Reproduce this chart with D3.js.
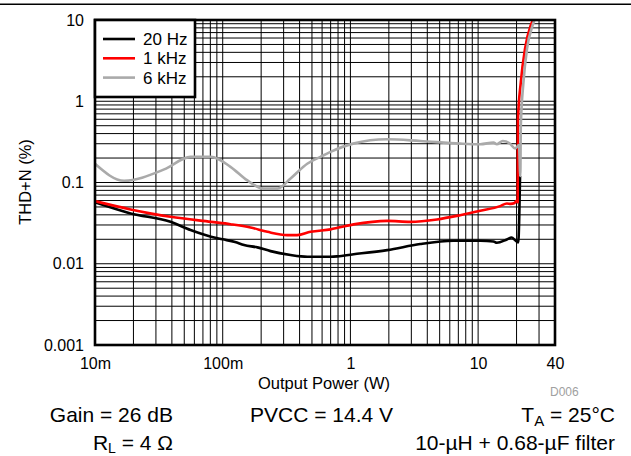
<!DOCTYPE html>
<html>
<head>
<meta charset="utf-8">
<script src="https://cdn.jsdelivr.net/npm/d3@7"></script>
<style>
  html, body { margin: 0; padding: 0; background: #fff; }
  svg { display: block; font-family: "Liberation Sans", Arial, sans-serif; }
</style>
</head>
<body>
<svg id="chart" width="631" height="456"></svg>
<script>
// ---------------- data ----------------
const seriesNames = ["20 Hz", "1 kHz", "6 kHz"];
const seriesColors = ["#000000", "#ff0000", "#aaaaaa"];

const x20Hz = [0.01, 0.019, 0.039, 0.056, 0.081, 0.10, 0.125, 0.147, 0.187, 0.237, 0.34, 0.46, 0.7, 1.06, 1.94, 3.52, 6.4, 10.4, 13.2, 14.0, 16.8, 18.3, 19.5, 20.6, 21.3];
const y20Hz = [0.057, 0.0416, 0.0328, 0.026, 0.0215, 0.0200, 0.0185, 0.0170, 0.0159, 0.0143, 0.0128, 0.0122, 0.0122, 0.0131, 0.0147, 0.0175, 0.0192, 0.0192, 0.0188, 0.0181, 0.0199, 0.021, 0.0195, 0.0183, 0.12];

const x1kHz = [0.01, 0.019, 0.039, 0.081, 0.115, 0.165, 0.224, 0.32, 0.383, 0.487, 0.7, 1.06, 1.94, 2.94, 4.76, 7.24, 10.4, 14.9, 16.8, 18.0, 19.3, 20.1, 20.4, 20.5, 21.6, 23.3, 25.8, 26.9];
const y1kHz = [0.059, 0.0466, 0.0378, 0.0328, 0.0307, 0.028, 0.0247, 0.0225, 0.0225, 0.0247, 0.0265, 0.0305, 0.0337, 0.0328, 0.0351, 0.0396, 0.0448, 0.0512, 0.0552, 0.0545, 0.056, 0.060, 0.057, 0.58, 1.72, 4.43, 8.56, 10];

const x6kHz = [0.01, 0.0169, 0.0348, 0.056, 0.081, 0.115, 0.156, 0.209, 0.269, 0.34, 0.459, 0.583, 0.698, 1.05, 1.94, 3.52, 7.24, 10.4, 13.2, 14.0, 15.6, 17.8, 19.5, 20.9, 21.4, 21.6, 22.65, 24.15, 26.7, 27.6];
const y6kHz = [0.17, 0.105, 0.145, 0.207, 0.207, 0.156, 0.106, 0.084, 0.084, 0.112, 0.17, 0.207, 0.238, 0.301, 0.34, 0.324, 0.301, 0.296, 0.31, 0.296, 0.324, 0.30, 0.262, 0.29, 0.12, 0.5, 1.72, 4.43, 8.56, 10];

const xTickValues = [0.01, 0.1, 1, 10, 40];
const xTickLabels = ["10m", "100m", "1", "10", "40"];
const yTickValues = [0.001, 0.01, 0.1, 1, 10];
const yTickLabels = ["0.001", "0.01", "0.1", "1", "10"];

// ---------------- layout ----------------
const svg = d3.select("#chart");
const L = 95, R = 555, T = 20, B = 345;

const x = d3.scaleLog().domain([0.01, 40]).range([L, R]);
const y = d3.scaleLog().domain([0.001, 10]).range([B, T]);

// top rule
svg.append("line").attr("x1", 0).attr("x2", 631).attr("y1", 4.3).attr("y2", 4.3)
  .attr("stroke", "#000").attr("stroke-width", 1.5);

// grid
const xGrid = [];
[0.01, 0.1, 1, 10].forEach(d => { for (let k = 1; k <= 9; k++) { const v = d * k; if (v <= 40.0001) xGrid.push(v); } });
const yGrid = [];
[0.001, 0.01, 0.1, 1].forEach(d => { for (let k = 1; k <= 9; k++) yGrid.push(d * k); });
yGrid.push(10);

const grid = svg.append("g");
grid.selectAll("line.v").data(xGrid).join("line")
  .attr("x1", d => x(d)).attr("x2", d => x(d)).attr("y1", T).attr("y2", B)
  .attr("stroke", "#000").attr("stroke-width", 1);
grid.selectAll("line.h").data(yGrid).join("line")
  .attr("y1", d => y(d)).attr("y2", d => y(d)).attr("x1", L).attr("x2", R)
  .attr("stroke", "#000").attr("stroke-width", 1);

// curves
const series = [
  { xs: x20Hz, ys: y20Hz },
  { xs: x1kHz, ys: y1kHz },
  { xs: x6kHz, ys: y6kHz }
];
const line = d3.line().x(d => x(d[0])).y(d => y(d[1])).curve(d3.curveMonotoneX);
series.forEach((s, i) => {
  const pts = s.xs.map((v, j) => [v, s.ys[j]]);
  svg.append("path").datum(pts).attr("d", line)
    .attr("fill", "none").attr("stroke", seriesColors[i]).attr("stroke-width", 2.6)
    .attr("stroke-linejoin", "round");
});

// axes
const xAxis = d3.axisBottom(x).tickValues(xTickValues)
  .tickFormat((d, i) => xTickLabels[i]).tickSize(0).tickPadding(13);
const gx = svg.append("g").attr("transform", `translate(0,${B})`).call(xAxis);
gx.select(".domain").remove();
gx.selectAll("text").attr("font-size", 16).attr("font-family", "Liberation Sans, Arial, sans-serif").attr("fill", "#000");

const yAxis = d3.axisLeft(y).tickValues(yTickValues)
  .tickFormat((d, i) => yTickLabels[i]).tickSize(0).tickPadding(11);
const gy = svg.append("g").attr("transform", `translate(${L},0)`).call(yAxis);
gy.select(".domain").remove();
gy.selectAll("text").attr("font-size", 16).attr("font-family", "Liberation Sans, Arial, sans-serif").attr("fill", "#000");

// border
svg.append("rect").attr("x", L).attr("y", T).attr("width", R - L).attr("height", B - T)
  .attr("fill", "none").attr("stroke", "#000").attr("stroke-width", 2.6);

// legend
const lg = svg.append("g");
lg.append("rect").attr("x", 95).attr("y", 20).attr("width", 100).attr("height", 77)
  .attr("fill", "#fff").attr("stroke", "#000").attr("stroke-width", 2.6);
seriesNames.forEach((n, i) => {
  const ly = 39 + i * 19.3;
  lg.append("line").attr("x1", 103).attr("x2", 135).attr("y1", ly).attr("y2", ly)
    .attr("stroke", seriesColors[i]).attr("stroke-width", 2.6);
  lg.append("text").attr("x", 143).attr("y", ly + 6).attr("font-size", 17).text(n);
});

// axis titles
svg.append("text").attr("x", 324).attr("y", 389).attr("text-anchor", "middle")
  .attr("font-size", 16.5).text("Output Power (W)");
svg.append("text").attr("transform", "translate(31,182) rotate(-90)").attr("text-anchor", "middle")
  .attr("font-size", 16.5).text("THD+N (%)");

svg.append("text").attr("x", 550).attr("y", 395.5).attr("font-size", 12).attr("fill", "#a0a0a0").text("D006");

// conditions
const fs = 21;
svg.append("text").attr("x", 173).attr("y", 421.5).attr("text-anchor", "end").attr("font-size", fs).text("Gain = 26 dB");
svg.append("text").attr("x", 250).attr("y", 421.5).attr("text-anchor", "start").attr("font-size", fs).text("PVCC = 14.4 V");
const ta = svg.append("text").attr("x", 615).attr("y", 421.5).attr("text-anchor", "end").attr("font-size", fs);
ta.append("tspan").text("T");
ta.append("tspan").attr("dy", 4.5).attr("font-size", 15).text("A");
ta.append("tspan").attr("dy", -4.5).text(" = 25°C");
const rl = svg.append("text").attr("x", 173).attr("y", 449.5).attr("text-anchor", "end").attr("font-size", fs);
rl.append("tspan").text("R");
rl.append("tspan").attr("dy", 3).attr("font-size", 14).text("L");
rl.append("tspan").attr("dy", -3).text(" = 4 Ω");
svg.append("text").attr("x", 615).attr("y", 449.5).attr("text-anchor", "end").attr("font-size", fs).text("10-µH + 0.68-µF filter");
</script>
</body>
</html>
